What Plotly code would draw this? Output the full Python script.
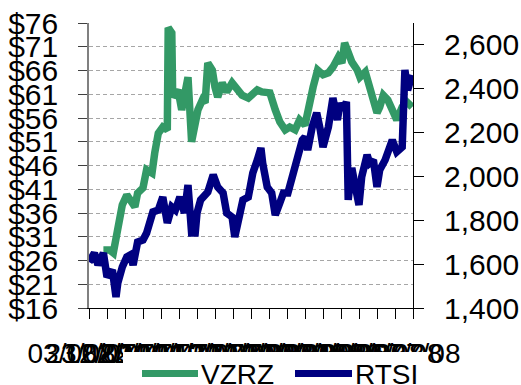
import pandas as pd
import plotly.graph_objects as go

# ---- data ----
start_date = "2007-08-03"
axis_days = 360
tick_step_days = 20

rtsi_day = [0, 6, 10, 16, 20, 26, 30, 32, 37, 42, 46, 49, 54, 60, 64, 68, 71, 77, 82, 87,
            92, 96, 101, 106, 110, 114, 118, 120, 124, 132, 138, 143, 149, 153, 159, 162, 166, 171, 177, 182,
            187, 191, 193, 198, 203, 207, 212, 216, 221, 226, 229, 232, 237, 240, 243, 248, 253, 257, 260, 266,
            271, 276, 279, 282, 286, 288, 292, 296, 300, 303, 309, 312, 316, 320, 323, 329, 332, 337, 342, 348,
            351, 354, 359]
rtsi_value = [1610, 1651, 1596, 1651, 1542, 1573, 1450, 1514, 1587, 1633, 1642, 1596, 1701, 1710, 1742, 1815, 1838, 1847, 1906, 1788,
              1861, 1847, 1906, 1833, 1961, 1742, 1742, 1833, 1893, 1929, 2007, 1952, 1925, 1833, 1815, 1724, 1801, 1893, 1906, 2016,
              2075, 2130, 2061, 1952, 1925, 1824, 1879, 1925, 1925, 1998, 2043, 2107, 2166, 2180, 2121, 2226, 2290, 2212, 2134, 2226,
              2358, 2258, 2335, 2303, 2340, 1893, 2039, 1952, 1870, 1998, 2098, 2061, 2075, 1952, 2030, 2075, 2112, 2166, 2112, 2134,
              2486, 2394, 2463]

vzrz_day = [16, 23, 27, 32, 37, 42, 48, 51, 54, 60, 64, 70, 73, 77, 82, 87, 88, 92, 93, 99,
            103, 107, 110, 114, 118, 121, 126, 129, 132, 137, 140, 143, 148, 153, 159, 164, 170, 177, 187, 192,
            201, 207, 212, 218, 223, 229, 234, 240, 246, 249, 254, 260, 266, 271, 277, 281, 284, 288, 292, 298,
            301, 307, 310, 314, 320, 323, 327, 332, 338, 342, 348, 353, 359]
vzrz_value = [28.2, 28.2, 27.6, 33.1, 37.7, 39.8, 38.1, 37.3, 40.2, 41.3, 45.1, 44.4, 48.6, 52.8, 54.1, 53.5, 75.0, 73.9, 60.4, 61.9,
              57.7, 61.9, 64.6, 51.0, 55.6, 57.7, 59.8, 59.2, 67.6, 66.1, 62.5, 60.4, 63.4, 61.5, 63.4, 61.9, 60.8, 60.2, 61.9, 61.5,
              61.3, 57.7, 55.2, 53.5, 54.1, 53.5, 55.6, 54.5, 60.4, 62.5, 66.1, 65.1, 65.5, 66.7, 68.8, 67.6, 71.8, 69.9, 67.8, 66.1,
              64.6, 65.7, 64.0, 60.8, 57.1, 58.3, 60.8, 59.8, 57.7, 55.6, 58.3, 59.4, 58.3]

series_names = ["VZRZ", "RTSI"]
series_colors = ["#339966", "#000080"]

left_range = [16, 76]
left_step = 5
right_range = [1400, 2700]
right_step = 200

# ---- build ----
W, H = 521, 385
ML, MR, MT, MB = 89, 108, 23, 77
PW, PH = W - ML - MR, H - MT - MB


def px(xp):
    return (xp - ML) / PW


def py(yp):
    return (H - MB - yp) / PH


start = pd.Timestamp(start_date)
end = start + pd.Timedelta(days=axis_days)
rtsi_x = [start + pd.Timedelta(days=d) for d in rtsi_day]
vzrz_x = [start + pd.Timedelta(days=d) for d in vzrz_day]

FONT = "Liberation Sans, Arial, sans-serif"
LW = 7.5

fig = go.Figure()
fig.add_trace(go.Scatter(x=vzrz_x, y=vzrz_value, name=series_names[0], mode="lines",
                         line=dict(color=series_colors[0], width=LW), xaxis="x", yaxis="y"))
fig.add_trace(go.Scatter(x=rtsi_x, y=rtsi_value, name=series_names[1], mode="lines",
                         line=dict(color=series_colors[1], width=LW), xaxis="x", yaxis="y2"))

dtick_ms = tick_step_days * 86400000
xr = [start, end]
common_x = dict(type="date", range=xr, tickmode="linear", tick0=start, dtick=dtick_ms)

# legend (drawn as a white box with line samples and text, like the source)
shapes = [
    dict(type="rect", xref="paper", yref="paper", x0=px(123), x1=px(428), y0=py(400), y1=py(352),
         fillcolor="white", line=dict(width=0), layer="above"),
    dict(type="line", xref="paper", yref="paper", x0=px(142), x1=px(198), y0=py(373.5), y1=py(373.5),
         line=dict(color=series_colors[0], width=7), layer="above"),
    dict(type="line", xref="paper", yref="paper", x0=px(295), x1=px(352), y0=py(373.5), y1=py(373.5),
         line=dict(color=series_colors[1], width=7), layer="above"),
]
annotations = [
    dict(text=series_names[0], xref="paper", yref="paper", x=px(200), y=py(374), xanchor="left",
         yanchor="middle", showarrow=False, font=dict(size=28, family=FONT, color="black"), borderpad=0),
    dict(text=series_names[1], xref="paper", yref="paper", x=px(354), y=py(374), xanchor="left",
         yanchor="middle", showarrow=False, font=dict(size=28, family=FONT, color="black"), borderpad=0),
]

fig.update_layout(
    width=W, height=H,
    margin=dict(l=ML, r=MR, t=MT, b=MB, pad=0, autoexpand=False),
    paper_bgcolor="white", plot_bgcolor="white",
    font=dict(family=FONT, color="black"),
    showlegend=False,
    shapes=shapes,
    annotations=annotations,
    xaxis=dict(**common_x, tickformat="%d/%m/%y", ticks="outside", ticklen=10,
               tickcolor="black", tickwidth=1, showline=True, linecolor="black",
               linewidth=1, showgrid=False, zeroline=False, tickangle=0,
               tickfont=dict(size=28, family=FONT), ticklabelshift=-7,
               ticklabelstandoff=10, ticklabeloverflow="allow"),
    xaxis2=dict(**common_x, overlaying="x", anchor="y", ticks="inside", ticklen=8,
                tickcolor="black", showticklabels=False, showgrid=False,
                showline=False, zeroline=False),
    yaxis=dict(range=left_range, tickmode="linear", tick0=left_range[0], dtick=left_step,
               tickprefix="$", ticks="outside", ticklen=9, tickcolor="#404040",
               showline=True, linecolor="#808080", linewidth=1.5,
               showgrid=True, gridcolor="#a6a6a6", griddash="4px,3px", gridwidth=1,
               zeroline=False, tickfont=dict(size=30, family=FONT),
               ticklabelstandoff=14, ticklabeloverflow="allow"),
    yaxis3=dict(range=left_range, tickmode="linear", tick0=left_range[0], dtick=left_step,
                overlaying="y", side="left", anchor="x", ticks="inside", ticklen=10,
                tickcolor="#404040", showticklabels=False, showgrid=False,
                showline=False, zeroline=False),
    yaxis2=dict(range=right_range, tickmode="linear", tick0=right_range[0], dtick=right_step,
                tickformat=",", overlaying="y", side="right", anchor="x",
                ticks="outside", ticklen=10, tickcolor="black",
                showline=True, linecolor="black", linewidth=1,
                showgrid=False, zeroline=False, tickfont=dict(size=30, family=FONT),
                ticklabelstandoff=14, ticklabeloverflow="allow"),
    yaxis4=dict(range=right_range, tickmode="linear", tick0=right_range[0], dtick=right_step,
                overlaying="y", side="right", anchor="x", ticks="inside", ticklen=9,
                tickcolor="black", showticklabels=False, showgrid=False,
                showline=False, zeroline=False),
)

fig.write_html("out.html")
